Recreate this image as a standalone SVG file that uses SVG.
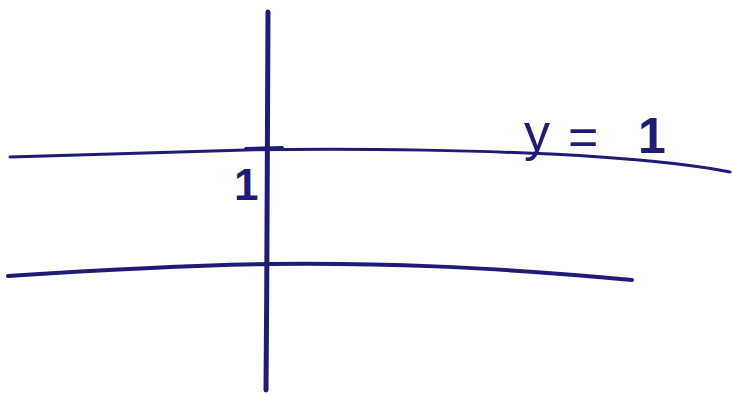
<svg xmlns="http://www.w3.org/2000/svg" width="733" height="396" viewBox="0 0 733 396">
<style>
.ln{fill:none;stroke:#1f1c78;stroke-linecap:round;stroke-linejoin:round}
.t{fill:#1f1c78;font-family:"Liberation Sans",Arial,sans-serif}
</style>
<rect width="733" height="396" fill="#ffffff"/>
<g id="axis">
<path class="ln" stroke-width="5" d="M268,12 C268,120 267,260 266,390"/>
</g>
<g id="lines">
<path class="ln" stroke-width="3" d="M10,157 C100,155 180,152 246,150 C350,148 500,150 600,157 C660,161 700,166 730,172"/>
<path class="ln" stroke-width="4" d="M246,149 L282,148"/>
<path class="ln" stroke-width="4" d="M8,276 C100,270 200,265 270,264 C380,263 480,266 632,280"/>
</g>
<g id="labels">
<text class="t" x="524" y="150" font-size="52">y</text>
<text class="t" x="568" y="155" font-size="52">=</text>
<text class="t" x="638" y="153" font-size="50" font-weight="bold">1</text>
<text class="t" x="234" y="200" font-size="44" font-weight="bold">1</text>
</g>
</svg>
